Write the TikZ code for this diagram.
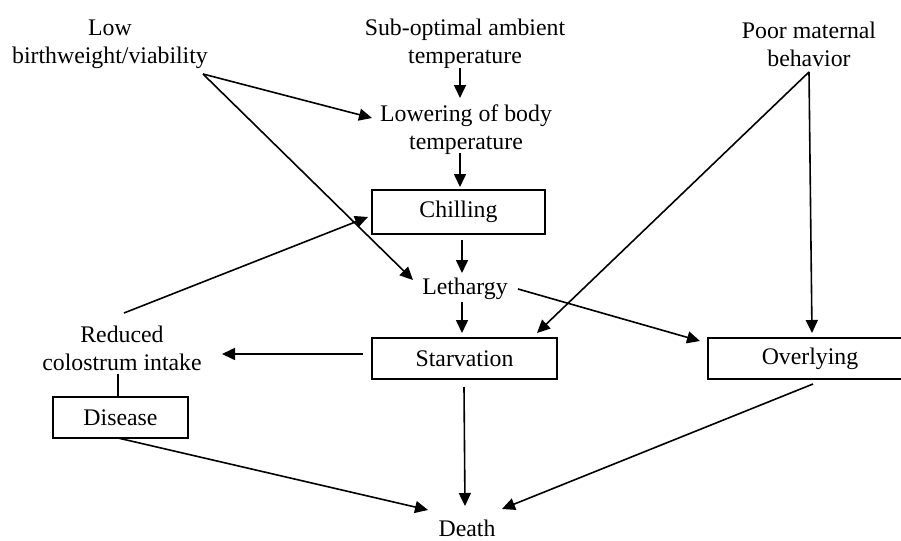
\documentclass[tikz,border=0pt]{standalone}
\usepackage{fontspec}
\setmainfont{Liberation Serif}
\usetikzlibrary{arrows.meta}
\begin{document}
\begin{tikzpicture}[x=0.5pt,y=-0.5pt,
  txt/.style={align=center,inner sep=0pt,font=\fontsize{11.9}{14}\selectfont},
  boxnode/.style={draw,line width=0.75pt,inner sep=0pt,font=\fontsize{11.9}{14}\selectfont},
  arr/.style={line width=0.8pt,-{Triangle[length=6.5pt,width=6pt]}},
  ln/.style={line width=0.8pt}]
\useasboundingbox (0,0) rectangle (901,541);
\node[txt] (low) at (110,44) {Low\\birthweight/viability};
\node[txt] (sub) at (465,44) {Sub-optimal ambient\\temperature};
\node[txt] (poor) at (809,44) {Poor maternal\\behavior};
\node[txt] (lower) at (466,130) {Lowering of body\\temperature};
\node[boxnode,minimum width=86.5pt,minimum height=22pt] (chill) at (458.5,212) {\raisebox{-2pt}{Chilling}};
\node[txt] (leth) at (465,289) {Lethargy};
\node[txt] (red) at (122,348) {Reduced\\colostrum intake};
\node[boxnode,minimum width=92.5pt,minimum height=20.5pt] (starv) at (464.5,358.5) {\raisebox{-1pt}{Starvation}};
\node[boxnode,minimum width=102pt,minimum height=20.5pt] (over) at (810,358.5) {\raisebox{-2pt}{Overlying}};
\node[boxnode,minimum width=67.5pt,minimum height=20.5pt] (dis) at (120.5,417.5) {\raisebox{-2pt}{Disease}};
\node[txt] (death) at (467,528) {Death};
% vertical chain
\draw[arr] ([shift={(-5,24)}]sub.center) -- ([shift={(-6,-32)}]lower.center);
\draw[arr] ([shift={(-6,23)}]lower.center) -- ([shift={(1.5,-25)}]chill.center);
\draw[arr] ([shift={(3.5,28)}]chill.center) -- ([shift={(-3,-16)}]leth.center);
\draw[arr] ([shift={(-3,13)}]leth.center) -- ([shift={(-2.5,-25.5)}]starv.center);
% low birthweight
\draw[arr] ([shift={(93,30)}]low.center) -- ([shift={(-94,-12)}]lower.center);
\draw[arr] ([shift={(93,30)}]low.center) -- ([shift={(-52,-9)}]leth.center);
% poor maternal
\draw[arr] ([shift={(0,28)}]poor.center) -- ([shift={(72.5,-25.5)}]starv.center);
\draw[arr] ([shift={(0,28)}]poor.center) -- ([shift={(2,-25.5)}]over.center);
% lethargy to overlying
\draw[arr] ([shift={(53,0)}]leth.center) -- ([shift={(-110,-17.5)}]over.center);
% reduced colostrum
\draw[arr] ([shift={(2,-35)}]red.center) -- ([shift={(-90.5,5)}]chill.center);
\draw[arr] ([shift={(-101.5,-4.5)}]starv.center) -- ([shift={(100,6)}]red.center);
\draw[ln] ([shift={(-4,26)}]red.center) -- ([shift={(-2.5,-20.5)}]dis.center);
% to death
\draw[arr] ([shift={(-2.5,20.5)}]dis.center) -- ([shift={(-39,-18)}]death.center);
\draw[arr] ([shift={(-0.5,28.5)}]starv.center) -- ([shift={(-2,-22)}]death.center);
\draw[arr] ([shift={(3,25.5)}]over.center) -- ([shift={(35,-19)}]death.center);
\end{tikzpicture}
\end{document}
